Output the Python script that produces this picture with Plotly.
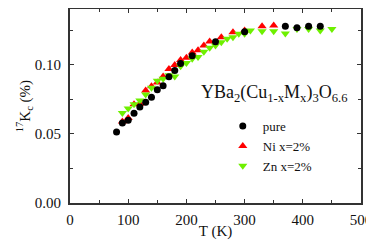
import plotly.graph_objects as go

# pure
T_pure = [80, 90, 100, 110, 120, 130, 140, 150, 160, 170, 180, 190, 210, 250, 300, 370, 390, 410, 430]
K_pure = [0.0515, 0.058, 0.060, 0.065, 0.0696, 0.073, 0.0765, 0.082, 0.085, 0.0915, 0.096, 0.101, 0.1067, 0.1167, 0.124, 0.128, 0.127, 0.128, 0.128]

# Ni x=2%
T_ni = [90, 100, 110, 120, 130, 140, 150, 160, 170, 180, 190, 200, 210, 220, 230, 240, 260, 280, 300, 330, 350]
K_ni = [0.059, 0.0615, 0.0715, 0.0718, 0.0814, 0.0845, 0.0873, 0.0917, 0.097, 0.100, 0.1035, 0.1052, 0.109, 0.1106, 0.114, 0.117, 0.120, 0.1236, 0.125, 0.128, 0.1285]

# Zn x=2%
T_zn = [90, 100, 110, 120, 130, 140, 150, 160, 170, 180, 190, 200, 210, 220, 230, 240, 250, 260, 270, 280, 290, 300, 310, 330, 350, 370, 390, 410, 430, 450]
K_zn = [0.0652, 0.0685, 0.0716, 0.0742, 0.0785, 0.0835, 0.0885, 0.090, 0.0925, 0.0917, 0.099, 0.1014, 0.1045, 0.1057, 0.1095, 0.1125, 0.114, 0.1165, 0.119, 0.120, 0.1225, 0.1225, 0.125, 0.1244, 0.1244, 0.1227, 0.126, 0.126, 0.125, 0.126]

x_ticks = [0, 100, 200, 300, 400, 500]
y_ticks = [0.00, 0.05, 0.10]
y_tick_labels = ["0.00", "0.05", "0.10"]

FONT = "Liberation Serif"
TXT = "#111111"

fig = go.Figure()
fig.add_trace(go.Scatter(x=T_ni, y=K_ni, mode="markers", name="Ni x=2%", legendrank=2,
                         marker=dict(symbol="triangle-up", size=8, color="#ff0000", line=dict(width=0))))
fig.add_trace(go.Scatter(x=T_zn, y=K_zn, mode="markers", name="Zn x=2%", legendrank=3,
                         marker=dict(symbol="triangle-down", size=8, color="#6ef000", line=dict(width=0))))
fig.add_trace(go.Scatter(x=T_pure, y=K_pure, mode="markers", name="pure", legendrank=1,
                         marker=dict(symbol="circle", size=7, color="#000000", line=dict(width=0))))

axis_common = dict(showline=True, linecolor="#333333", linewidth=2, mirror="ticks",
                   ticks="inside", ticklen=4, tickwidth=1.2, tickcolor="#333333",
                   showgrid=False, zeroline=False, automargin=False,
                   tickfont=dict(family=FONT, size=15, color=TXT))

fig.update_xaxes(range=[0, 500], tickvals=x_ticks,
                 minor=dict(ticks="inside", dtick=50, ticklen=3, tickcolor="#333333"),
                 title=dict(text="T (K)", font=dict(family=FONT, size=15, color=TXT), standoff=0),
                 ticklabelstandoff=2,
                 **axis_common)
fig.update_yaxes(range=[0, 0.1405], tickvals=y_ticks, ticktext=y_tick_labels,
                 minor=dict(ticks="inside", tickvals=[0.025, 0.075, 0.125], ticklen=3, tickcolor="#333333"),
                 title=dict(text="<sup>17</sup>K<sub>c</sub> (%)", font=dict(family=FONT, size=15, color=TXT), standoff=0),
                 ticklabelstandoff=4,
                 **axis_common)

fig.add_annotation(x=0.958, y=0.564, xref="paper", yref="paper", xanchor="right", yanchor="middle",
                   text="YBa<sub>2</sub>(Cu<sub>1-x</sub>M<sub>x</sub>)<sub>3</sub>O<sub>6.6</sub>",
                   showarrow=False, font=dict(family=FONT, size=18, color=TXT))

# The page body has an 8px default margin, so the figure is sized to fit inside it.
fig.update_layout(
    width=366, height=232,
    margin=dict(l=62, r=13, t=1, b=37),
    plot_bgcolor="white", paper_bgcolor="white",
    legend=dict(x=0.525, y=0.474, xanchor="left", yanchor="top", bgcolor="rgba(0,0,0,0)",
                font=dict(family=FONT, size=13, color=TXT), itemwidth=30,
                tracegroupgap=0, traceorder="normal"),
    showlegend=True,
)

fig.write_html("out.html")
